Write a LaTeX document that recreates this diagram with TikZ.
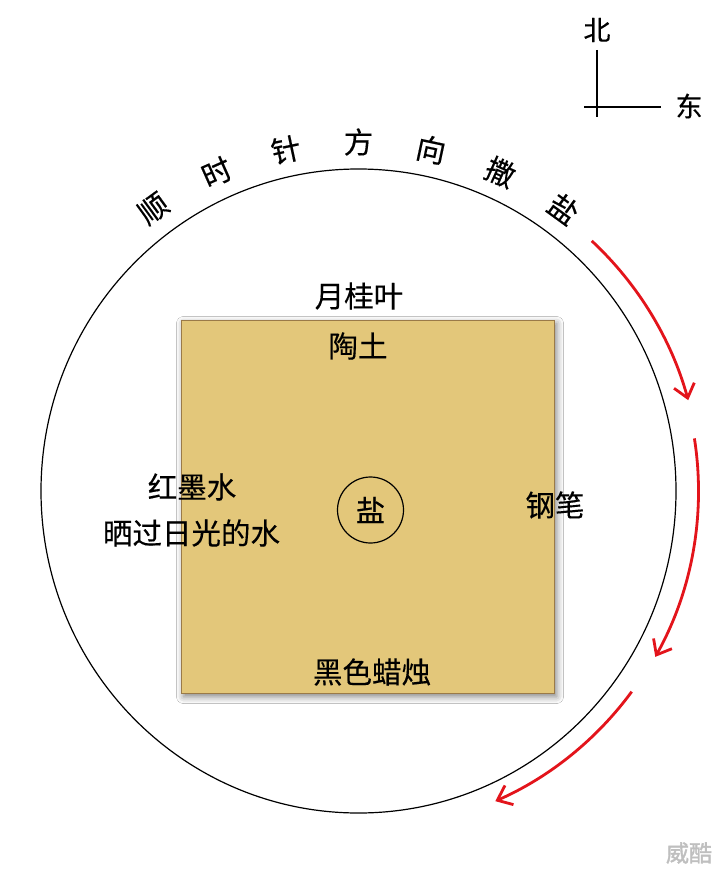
\documentclass[tikz,border=0pt]{standalone}
\usepackage{fontspec}
\setmainfont{Noto Sans CJK SC}[FakeBold=0.3]
\newfontfamily\wmfont{Noto Sans CJK SC}[FakeBold=1.6]
\usetikzlibrary{arrows.meta,shadows.blur}
\definecolor{sandfill}{HTML}{E3C77A}
\definecolor{sandedge}{HTML}{9A7A48}
\definecolor{arrowred}{HTML}{E3141B}
\begin{document}
\begin{tikzpicture}[x=1pt,y=-1pt,
  lab/.style={font=\fontsize{29.5}{31}\selectfont, inner sep=0pt},
  arclab/.style={font=\fontsize{29.5}{31}\selectfont, inner sep=0pt},
  compasslab/.style={font=\fontsize{27}{29}\selectfont, inner sep=0pt},
  redarrow/.style={draw=arrowred, line width=2.8pt,
    -{Straight Barb[length=13pt,width=21pt,line width=2.8pt]}},
  sandbox/.style={draw=sandedge, line width=1pt, fill=sandfill,
    minimum width=373pt, minimum height=373pt, inner sep=0pt,
    blur shadow={shadow xshift=2.5pt, shadow yshift=-3.5pt, shadow blur radius=7pt, shadow opacity=50}}]
\useasboundingbox (0,0) rectangle (723,874);
\fill[white] (0,0) rectangle (723,874);
\coordinate (c) at (358.5,491);
% big circle
\draw[line width=1.2pt] (c) ellipse [x radius=317.5, y radius=322];
% square
\node[sandbox] (sq) at (367.5,506.5) {};
% labels
\node[lab] (laurel) at (359,296) {月桂叶};
\node[lab] (clay) at (358,346) {陶土};
\node[lab] (ink) at (192,487) {红墨水};
\node[lab] (water) at (191.5,533) {晒过日光的水};
\node[lab] (pen) at (555,505) {钢笔};
\node[lab] (candle) at (372,672) {黑色蜡烛};
\node[lab, draw, circle, line width=1.2pt, minimum size=66pt] (salt) at (370.5,510) {盐};
% arc text
\foreach \ch [count=\i] in {顺,时,针,方,向,撒,盐} {
  \pgfmathsetmacro\ang{126-12*(\i-1)}
  \node[arclab, rotate=\ang-90] (t\i) at ([shift={(-\ang:349)}]c) {\ch};
}
% red arrows
\coordinate (a1s) at ([shift={(-47:342)}]c);
\coordinate (a2s) at ([shift={(-8.9:340)}]c);
\coordinate (a3s) at ([shift={(36.3:339)}]c);
\draw[redarrow] (a1s) arc[start angle=-47, end angle=-15.4, radius=342];
\draw[redarrow] (a2s) arc[start angle=-8.9, end angle=29.2, radius=340];
\draw[redarrow] (a3s) arc[start angle=36.3, end angle=66.2, radius=339];
% compass
\node[compasslab] (north) at (597,30) {北};
\node[compasslab] (east) at (689,106) {东};
\coordinate (ntop) at (597,50);
\coordinate (nbot) at (597,117);
\coordinate (ewl) at (584,107);
\coordinate (ewr) at (661,107);
\draw[line width=1.8pt] (ntop) -- (nbot);
\draw[line width=1.8pt] (ewl) -- (ewr);
% watermark
\node[font=\wmfont\fontsize{23}{25}\selectfont, text=black!25, inner sep=0pt] (wm) at (689,853) {威酷};
\end{tikzpicture}
\end{document}
